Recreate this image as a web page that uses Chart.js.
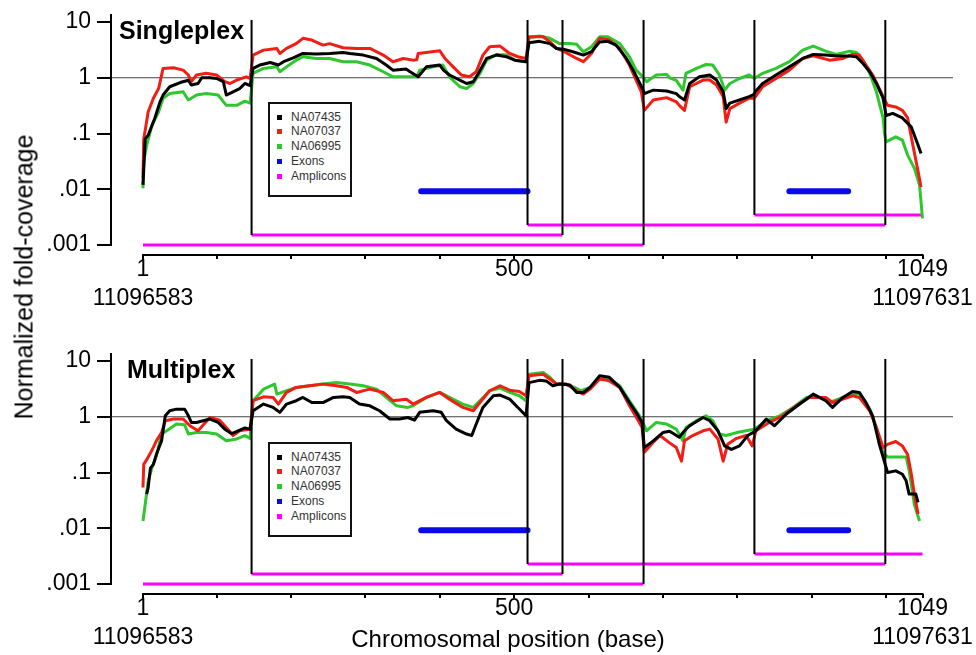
<!DOCTYPE html>
<html>
<head>
<meta charset="utf-8">
<script src="https://cdn.jsdelivr.net/npm/chart.js@4"></script>
<style>
  body { margin: 0; background: #fff; }
  #wrap { position: relative; width: 976px; height: 655px; overflow: hidden; background: #fff;
          font-family: "Liberation Sans", Arial, sans-serif; color: #000; }
  canvas { position: absolute; left: 0; }
  .ptitle { position: absolute; font-weight: bold; font-size: 25px; line-height: 25px; white-space: nowrap; }
  .legend { position: absolute; left: 268px; width: 80px; height: 85px; border: 2px solid #111;
            background: #fff; font-size: 12px; color: #333; padding-top: 5.6px; box-sizing: content-box; }
  .legend .row { position: relative; height: 14.75px; line-height: 14.75px; padding-left: 21px; white-space: nowrap; }
  .legend .sw { position: absolute; left: 7px; top: 5px; width: 5px; height: 5px; }
  #ytitle { position: absolute; left: 24px; top: 277px; font-size: 25px; line-height: 25px; white-space: nowrap;
            transform: translate(-50%, -50%) rotate(-90deg); }
  #xtitle { position: absolute; left: 508px; top: 627px; font-size: 24px; line-height: 24px; white-space: nowrap;
            transform: translateX(-50%); }
</style>
</head>
<body>
<div id="wrap">
  <canvas id="single" width="976" height="330" style="top:0"></canvas>
  <canvas id="multi" width="976" height="316" style="top:339px"></canvas>
  <div class="ptitle" style="left:119px;top:18px">Singleplex</div>
  <div class="ptitle" style="left:127px;top:357px">Multiplex</div>
  <div class="legend" id="legSingle" style="top:102px"></div>
  <div class="legend" id="legMulti" style="top:442px"></div>
  <div id="ytitle">Normalized fold-coverage</div>
  <div id="xtitle">Chromosomal position (base)</div>
</div>
<script>
// axis ticks
const X_TICKS = [1, 100, 200, 300, 400, 500, 600, 700, 800, 900, 1000, 1049];
const X_TICK_LABELS = [["1", "11096583"], "", "", "", "", ["500"], "", "", "", "", "", ["1049", "11097631"]];
const Y_TICKS = [0.001, 0.01, 0.1, 1, 10];
const Y_TICK_LABELS = [".001", ".01", ".1", "1", "10"];

// legend
const LEGEND_NAMES = ["NA07435", "NA07037", "NA06995", "Exons", "Amplicons"];
const LEGEND_COLORS = ["#000000", "#f01e14", "#2ec72e", "#0a0ae6", "#ff00ff"];

// exons (start, end) and their drawing level
const EXON_START = [375, 870];
const EXON_END = [518, 949];
const EXON_LEVEL = 0.0092;

// amplicons: start, end, level
const AMP_START = [1, 147, 518, 823];
const AMP_END = [674, 565, 999, 1049];
const AMP_LEVEL = [0.001, 0.00151, 0.00228, 0.00345];
const BOUNDARY_TOP = 10.86;
const REF_LEVEL = 1;

// Singleplex: [position, normalized fold-coverage]
const SINGLE_NA07435 = [
  [1,0.012],[4,0.08],[8,0.093],[17,0.19],[24,0.37],[28,0.49],[37,0.69],[51,0.82],[62,0.90],[66,0.74],[75,0.79],[80,1.0],[91,1.0],[100,0.97],[109,0.85],[113,0.49],[122,0.56],[131,0.64],[138,0.79],[145,0.72],
  [149,1.47],[158,1.69],[172,1.88],[183,1.69],[190,1.94],[203,2.28],[216,2.73],[234,2.66],[252,2.73],[270,2.85],[279,2.73],[297,2.55],[315,2.22],[328,1.69],[337,1.37],[355,1.43],
  [360,1.28],[371,1.04],[382,1.57],[400,1.69],[405,1.37],[413,1.12],[427,0.91],[436,0.79],[445,0.85],[452,1.2],[463,2.22],[476,2.55],[490,2.38],[501,2.07],[516,1.94],
  [520,4.24],[534,4.5],[548,4.1],[557,3.36],[566,3.26],[579,2.93],[593,2.55],[604,2.93],[615,4.4],[626,4.5],[637,3.85],[651,2.22],[660,1.37],[669,0.79],[673,0.62],
  [675,0.52],[687,0.60],[705,0.58],[718,0.52],[722,0.46],[729,0.40],[736,0.79],[749,1.04],[763,1.12],[772,0.91],[781,0.56],[785,0.28],[790,0.35],[803,0.40],[816,0.46],[822,0.50],
  [825,0.58],[834,0.79],[852,1.12],[870,1.57],[888,2.22],[902,2.62],[919,2.55],[933,2.45],[951,2.45],[960,2.38],[969,1.8],[978,1.28],[987,0.79],[996,0.43],[998,0.3],
  [1000,0.21],[1009,0.23],[1022,0.19],[1034,0.13],[1043,0.062],[1047,0.044]
];
const SINGLE_NA07037 = [
  [1,0.016],[2,0.08],[4,0.115],[8,0.246],[15,0.43],[22,0.64],[28,1.47],[42,1.51],[55,1.37],[62,1.12],[66,0.85],[73,1.12],[86,1.2],[100,1.12],[111,0.85],[118,0.79],[127,0.91],[140,1.04],[145,0.97],
  [149,2.55],[163,3.13],[181,3.36],[185,2.73],[194,3.36],[207,4.1],[216,5.1],[228,4.74],[243,3.85],[252,4.1],[270,3.46],[288,3.36],[306,3.36],[324,2.55],[337,1.94],[351,2.22],
  [364,2.07],[369,2.1],[371,2.73],[400,3.05],[407,2.22],[418,1.57],[429,1.12],[440,1.04],[449,1.28],[458,2.55],[467,3.6],[481,3.7],[494,2.73],[505,2.38],[516,2.22],
  [520,5.45],[539,5.45],[548,4.4],[557,3.36],[566,3.0],[584,2.22],[593,1.94],[604,2.73],[615,5.1],[628,4.74],[642,3.36],[655,1.69],[664,0.91],[671,0.56],
  [675,0.26],[687,0.40],[705,0.44],[718,0.37],[722,0.32],[729,0.26],[736,0.69],[754,0.91],[763,0.91],[772,0.74],[781,0.46],[785,0.16],[790,0.28],[803,0.35],[816,0.43],[823,0.43],
  [834,0.69],[852,0.97],[870,1.37],[888,2.22],[902,2.48],[924,2.07],[942,2.22],[955,2.62],[964,2.55],[973,1.69],[982,1.12],[991,0.64],[998,0.40],
  [1002,0.32],[1013,0.30],[1022,0.26],[1029,0.19],[1036,0.062],[1043,0.021],[1047,0.011]
];
const SINGLE_NA06995 = [
  [1,0.0104],[2,0.031],[6,0.062],[13,0.14],[22,0.246],[28,0.43],[37,0.52],[55,0.56],[62,0.40],[73,0.49],[86,0.52],[102,0.49],[113,0.32],[127,0.32],[138,0.38],[145,0.35],
  [149,1.2],[163,1.47],[181,1.57],[185,1.28],[194,1.57],[207,2.07],[216,2.38],[234,2.22],[252,2.22],[270,1.94],[288,1.94],[306,1.69],[324,1.28],[337,1.04],[355,1.04],
  [369,1.04],[373,1.37],[391,1.57],[404,1.69],[413,1.04],[427,0.69],[436,0.64],[445,0.79],[454,1.2],[463,2.07],[476,2.62],[490,2.55],[501,2.07],[516,1.94],
  [520,5.2],[534,5.6],[548,5.1],[561,4.1],[575,4.1],[584,4.0],[593,2.93],[604,3.6],[615,5.45],[626,5.45],[642,4.1],[655,2.38],[664,1.37],[673,1.04],
  [678,0.85],[691,1.12],[705,1.15],[709,1.0],[718,0.9],[727,0.60],[731,1.2],[745,1.47],[758,1.73],[767,1.69],[776,1.12],[783,0.60],[790,0.79],[803,0.97],[816,1.12],[823,0.97],
  [834,1.2],[852,1.47],[870,1.94],[888,3.13],[902,3.7],[919,3.0],[933,2.62],[951,3.0],[960,2.85],[969,2.07],[978,1.2],[987,0.56],[996,0.19],[998,0.1],
  [1000,0.071],[1013,0.087],[1022,0.076],[1029,0.041],[1038,0.024],[1045,0.012],[1047,0.006],[1049,0.003]
];

// Multiplex: [position, normalized fold-coverage]
const MULTI_NA07435 = [
  [6,0.041],[8,0.054],[11,0.12],[15,0.14],[19,0.21],[26,0.37],[31,1.04],[37,1.28],[46,1.37],[57,1.37],[62,1.04],[66,0.79],[73,0.79],[82,0.85],[91,0.91],[102,0.79],[111,0.60],[120,0.50],[129,0.56],[138,0.63],[145,0.60],
  [149,1.28],[163,1.69],[176,1.47],[185,1.2],[194,1.69],[207,1.94],[216,2.22],[228,1.8],[243,1.8],[257,2.22],[270,2.28],[279,2.22],[292,1.69],[306,1.57],[319,1.28],[333,0.91],[346,0.91],[357,0.97],
  [366,0.87],[373,1.2],[391,1.28],[402,1.2],[409,0.85],[422,0.60],[436,0.49],[443,0.46],[449,0.74],[458,1.47],[472,2.38],[481,2.45],[494,2.07],[505,1.47],[516,1.04],
  [520,4.1],[534,4.5],[543,4.4],[552,3.6],[561,3.86],[575,3.7],[584,2.73],[593,2.73],[602,3.36],[615,5.45],[628,5.1],[642,3.36],[655,1.8],[664,1.2],[672,0.79],
  [675,0.28],[687,0.37],[700,0.52],[709,0.55],[722,0.43],[729,0.56],[736,0.69],[754,0.97],[763,0.85],[774,0.56],[783,0.30],[792,0.26],[803,0.30],[814,0.46],[821,0.52],
  [825,0.56],[839,0.91],[850,0.69],[866,1.12],[884,1.69],[902,2.55],[919,1.94],[928,1.47],[942,2.22],[955,2.85],[964,2.73],[973,1.8],[982,1.04],[991,0.32],[996,0.19],
  [1002,0.10],[1013,0.107],[1022,0.093],[1027,0.071],[1031,0.041],[1040,0.041],[1043,0.029]
];
const MULTI_NA07037 = [
  [1,0.054],[2,0.14],[6,0.17],[13,0.25],[19,0.37],[26,0.52],[31,0.85],[42,0.91],[55,0.91],[64,0.69],[75,0.56],[91,0.97],[104,0.87],[113,0.64],[122,0.46],[131,0.56],[145,0.60],
  [149,1.94],[163,2.28],[176,2.22],[183,1.69],[194,2.73],[207,3.36],[225,3.6],[243,3.85],[261,3.6],[275,3.36],[288,2.73],[306,3.13],[324,2.73],[337,1.94],[355,2.07],
  [364,1.69],[382,2.22],[400,2.73],[413,2.07],[431,1.47],[445,1.28],[454,1.8],[467,2.93],[481,3.6],[494,3.0],[507,2.85],[516,2.38],
  [520,5.45],[539,5.8],[548,4.74],[557,3.86],[570,3.86],[584,2.93],[593,2.55],[602,3.13],[615,4.74],[628,4.4],[642,3.36],[655,1.57],[667,0.85],[672,0.64],
  [675,0.23],[687,0.35],[696,0.46],[709,0.34],[718,0.28],[725,0.16],[729,0.37],[740,0.46],[754,0.56],[763,0.60],[774,0.40],[781,0.16],[787,0.32],[799,0.41],[812,0.46],[820,0.30],
  [825,0.56],[843,0.79],[861,1.04],[879,1.57],[897,2.22],[919,2.22],[928,1.8],[942,2.07],[955,2.38],[964,2.22],[978,1.28],[987,0.64],[996,0.28],
  [1002,0.32],[1013,0.36],[1022,0.30],[1029,0.21],[1034,0.093],[1038,0.041],[1043,0.018]
];
const MULTI_NA06995 = [
  [1,0.0135],[4,0.027],[8,0.071],[13,0.12],[19,0.2],[26,0.49],[33,0.56],[46,0.74],[57,0.72],[62,0.49],[73,0.52],[86,0.52],[100,0.49],[113,0.37],[127,0.40],[138,0.46],[145,0.41],
  [149,1.94],[163,3.13],[178,3.86],[181,2.55],[194,2.93],[207,3.36],[225,3.6],[243,3.86],[261,4.1],[279,3.86],[297,3.6],[315,3.13],[328,2.22],[342,1.57],[357,1.47],
  [364,1.57],[382,2.22],[400,2.73],[413,2.22],[431,1.69],[445,1.47],[454,1.94],[467,2.93],[481,3.26],[494,2.73],[507,2.38],[516,1.94],
  [520,5.8],[539,6.25],[548,5.1],[557,3.86],[570,3.86],[581,3.36],[590,2.93],[602,3.36],[615,4.74],[628,4.74],[642,3.6],[655,1.94],[667,1.12],[673,0.79],
  [678,0.56],[691,0.79],[705,0.74],[718,0.6],[727,0.37],[731,0.64],[745,0.85],[758,1.04],[767,0.85],[776,0.49],[785,0.46],[799,0.52],[812,0.56],[823,0.60],
  [839,0.85],[857,1.04],[875,1.47],[893,2.22],[906,2.38],[924,1.8],[942,2.22],[955,2.62],[964,2.55],[978,1.37],[987,0.64],[996,0.23],
  [1002,0.19],[1013,0.19],[1027,0.19],[1031,0.11],[1038,0.027],[1045,0.0135]
];

// axis range (the y axis stands a little left of base 1, as in the figure)
const X_MIN = -42, X_MAX = 1090;
const Y_MIN = 0.000662, Y_MAX = 13.92;
const FONT = "'Liberation Sans', Arial, sans-serif";

/** Horizontal pieces separated by gaps */
function hSegments(starts, ends, level){
  const pts = [];
  starts.forEach((s, i) => {
    const lv = Array.isArray(level) ? level[i] : level;
    pts.push({ x: s, y: lv }, { x: ends[i], y: lv }, { x: ends[i], y: null });
  });
  return pts;
}

/** Vertical black lines at the inner amplicon ends */
function boundaryLines(){
  const pts = [];
  const add = (x, lv) => pts.push({ x, y: BOUNDARY_TOP }, { x, y: lv }, { x, y: null });
  AMP_START.forEach((s, i) => { if (i > 0) add(s, AMP_LEVEL[i]); });
  AMP_END.forEach((e, i) => { if (i < AMP_END.length - 1) add(e, AMP_LEVEL[i]); });
  return pts;
}

const toXY = arr => arr.map(([x, y]) => ({ x, y }));

/** Axis lines only over the data range */
const spines = {
  id: "spines",
  afterDraw(chart){
    const { ctx, chartArea, scales: { x, y } } = chart;
    ctx.save();
    ctx.strokeStyle = "#000";
    ctx.lineWidth = 2;
    ctx.beginPath();
    ctx.moveTo(chartArea.left, chartArea.top);
    ctx.lineTo(chartArea.left, y.getPixelForValue(Y_TICKS[0]) + 1);
    ctx.moveTo(x.getPixelForValue(X_TICKS[0]) - 1, chartArea.bottom);
    ctx.lineTo(x.getPixelForValue(X_TICKS[X_TICKS.length - 1]) + 1, chartArea.bottom);
    ctx.stroke();
    ctx.restore();
  }
};

function seriesDs(data, color){
  return {
    data: toXY(data), borderColor: color, borderWidth: 3, pointRadius: 0,
    tension: 0, borderJoinStyle: "round", order: 2
  };
}

function buildPanel(canvasId, black, red, green){
  const canvas = document.getElementById(canvasId);
  const xHeight = canvas.height - 255;
  return new Chart(canvas, {
    type: "line",
    data: {
      datasets: [
        { data: boundaryLines(), borderColor: "#000", borderWidth: 2, pointRadius: 0, order: 0 },
        seriesDs(black, LEGEND_COLORS[0]),
        seriesDs(red, LEGEND_COLORS[1]),
        seriesDs(green, LEGEND_COLORS[2]),
        { data: hSegments(EXON_START, EXON_END, EXON_LEVEL), borderColor: LEGEND_COLORS[3],
          borderWidth: 6, borderCapStyle: "round", pointRadius: 0, order: 3 },
        { data: hSegments(AMP_START, AMP_END, AMP_LEVEL), borderColor: LEGEND_COLORS[4],
          borderWidth: 3, pointRadius: 0, order: 3 },
        { data: [{ x: X_MIN, y: REF_LEVEL }, { x: X_MAX, y: REF_LEVEL }], borderColor: "#444",
          borderWidth: 1, pointRadius: 0, order: 4 }
      ]
    },
    options: {
      responsive: false,
      animation: false,
      events: [],
      layout: { padding: { left: 0, right: 23, top: 14, bottom: 0 } },
      plugins: { legend: { display: false }, tooltip: { enabled: false } },
      scales: {
        x: {
          type: "linear", min: X_MIN, max: X_MAX, bounds: "data",
          border: { display: false },
          grid: { drawOnChartArea: false, drawTicks: true, tickLength: 4, color: "#000", lineWidth: 2 },
          ticks: {
            autoSkip: false, maxRotation: 0, minRotation: 0, padding: -4, color: "#000",
            font: { family: FONT, size: 23, lineHeight: "29px" },
            callback: (v, i) => X_TICK_LABELS[i]
          },
          afterBuildTicks: s => { s.ticks = X_TICKS.map(v => ({ value: v })); },
          afterFit: s => { s.height = xHeight; s.paddingLeft = 0; s.paddingRight = 0; }
        },
        y: {
          type: "logarithmic", min: Y_MIN, max: Y_MAX, bounds: "data",
          border: { display: false },
          grid: { drawOnChartArea: false, drawTicks: true, tickLength: 14, color: "#000", lineWidth: 2 },
          ticks: {
            autoSkip: false, padding: 6, color: "#000",
            font: { family: FONT, size: 23 },
            callback: (v, i) => Y_TICK_LABELS[i]
          },
          afterBuildTicks: s => { s.ticks = Y_TICKS.map(v => ({ value: v })); },
          afterFit: s => { s.width = 111; s.paddingTop = 0; s.paddingBottom = 0; }
        }
      }
    },
    plugins: [spines]
  });
}

function buildLegend(id){
  const box = document.getElementById(id);
  LEGEND_NAMES.forEach((name, i) => {
    const row = document.createElement("div");
    row.className = "row";
    const sw = document.createElement("span");
    sw.className = "sw";
    sw.style.background = LEGEND_COLORS[i];
    row.appendChild(sw);
    row.appendChild(document.createTextNode(name));
    box.appendChild(row);
  });
}

buildPanel("single", SINGLE_NA07435, SINGLE_NA07037, SINGLE_NA06995);
buildPanel("multi", MULTI_NA07435, MULTI_NA07037, MULTI_NA06995);
buildLegend("legSingle");
buildLegend("legMulti");
</script>
</body>
</html>
